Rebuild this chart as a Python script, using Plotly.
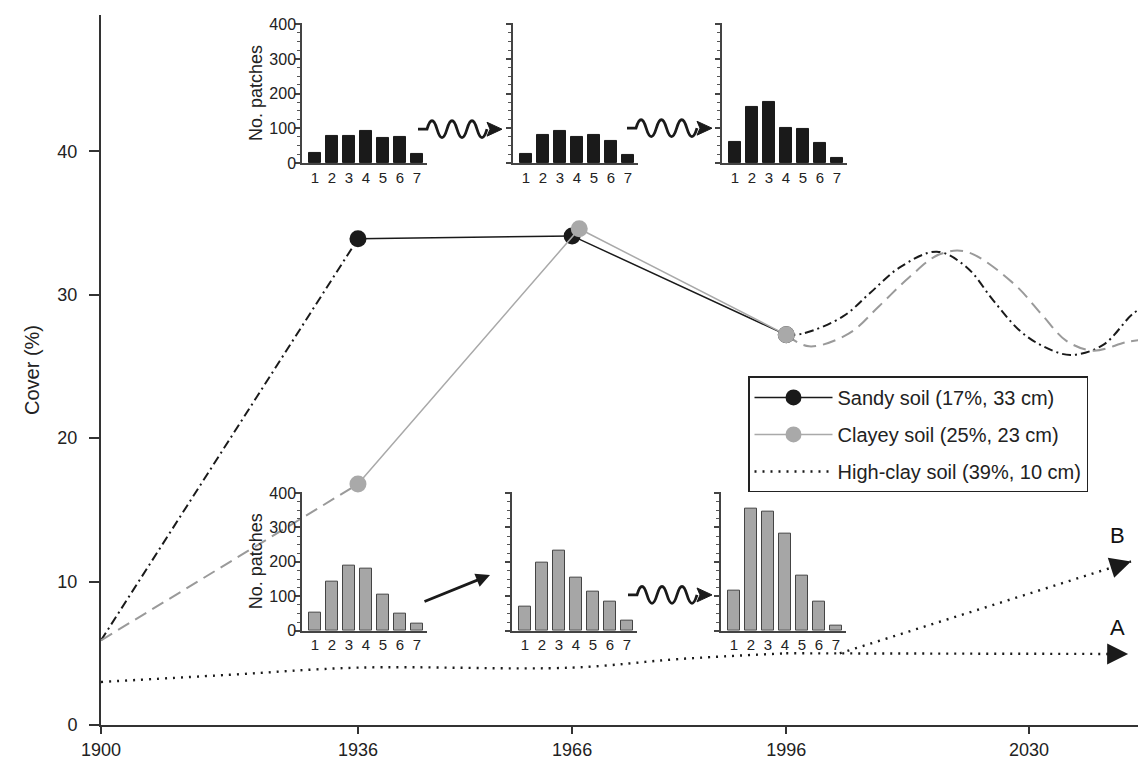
import math
import plotly.graph_objects as go

# ---------------- data ----------------
years_sandy_past = [1900, 1936]
sandy_past = [5.9, 33.9]
years_sandy = [1936, 1966, 1996]
sandy = [33.9, 34.1, 27.2]
years_sandy_future = [1996, 1998.4, 2004.0, 2007.7, 2011.9, 2017.1, 2021.3, 2025.0, 2028.7, 2032.0, 2035.8, 2040.4, 2044.4, 2046.4]
sandy_future = [27.2, 27.3, 28.5, 30.1, 31.9, 33.0, 31.9, 29.6, 27.5, 26.4, 25.8, 26.5, 28.6, 29.3]

years_clay_past = [1900, 1936]
clay_past = [5.9, 16.8]
years_clay = [1936, 1967, 1996]
clay = [16.8, 34.6, 27.2]
years_clay_future = [1996, 1999.2, 2004.8, 2009.0, 2013.2, 2017.4, 2021.2, 2027.8, 2032.0, 2035.2, 2039.0, 2043.7, 2046.4]
clay_future = [27.2, 26.4, 27.3, 29.2, 31.2, 32.8, 33.0, 30.8, 28.5, 26.8, 26.1, 26.7, 26.9]

years_high = [1900, 1918, 1936, 1966, 1981, 1996]
high = [3.0, 3.5, 4.0, 4.0, 4.6, 5.0]
years_A = [1996, 2043.9]
high_A = [5.0, 4.95]
years_B = [2003.5, 2044.3]
high_B = [5.0, 11.4]

legend_names = ["Sandy soil (17%, 33 cm)", "Clayey soil (25%, 23 cm)", "High-clay soil (39%, 10 cm)"]

x_ticks = [1900, 1936, 1966, 1996, 2030]
y_ticks = [0, 10, 20, 30, 40]

classes = [1, 2, 3, 4, 5, 6, 7]
sandy_1936 = [30, 79, 77, 92, 73, 74, 27]
sandy_1966 = [26, 80, 92, 76, 80, 63, 24]
sandy_1996 = [60, 162, 177, 101, 98, 59, 14]
clay_1936 = [51, 142, 190, 180, 104, 50, 21]
clay_1966 = [71, 199, 233, 153, 113, 83, 30]
clay_1996 = [117, 354, 347, 283, 159, 85, 16]
patch_ticks = [0, 100, 200, 300, 400]

# ---------------- layout constants ----------------
# page body has an 8px margin: the figure occupies window pixels 8..1146 x 8..760
OFF = 8
W, H = 1146 - OFF, 760 - OFF
X_LEFT, X_RIGHT, Y_TOP, Y_BOT = 101, 1146, 13, 728   # plot area in window pixels
L, R, T, B = X_LEFT - OFF, OFF + W - X_RIGHT, Y_TOP - OFF, OFF + H - Y_BOT
PW, PH = X_RIGHT - X_LEFT, Y_BOT - Y_TOP
X_RANGE = [1900, 2046.4]
Y_RANGE = [0, 49.5]
FONT = "Liberation Sans, Arial, Helvetica, sans-serif"
INK = "#1a1a1a"
GREY = "#a9a9a9"


def fx(X):
    return (X - X_LEFT) / PW


def fy(Y):
    return (Y_BOT - Y) / PH


fig = go.Figure()

# ---------------- main traces ----------------
fig.add_trace(go.Scatter(x=years_sandy_past, y=sandy_past, mode="lines",
                         line=dict(color=INK, width=2, dash="9px,4px,2px,4px"),
                         showlegend=False, hoverinfo="skip"))
fig.add_trace(go.Scatter(x=years_clay_past, y=clay_past, mode="lines",
                         line=dict(color="#9a9a9a", width=2, dash="13px,7px"),
                         showlegend=False, hoverinfo="skip"))
fig.add_trace(go.Scatter(x=years_sandy_future, y=sandy_future, mode="lines",
                         line=dict(color=INK, width=2, dash="9px,4px,2px,4px", shape="spline", smoothing=1.0),
                         showlegend=False, hoverinfo="skip"))
fig.add_trace(go.Scatter(x=years_clay_future, y=clay_future, mode="lines",
                         line=dict(color="#9a9a9a", width=2, dash="13px,7px", shape="spline", smoothing=1.0),
                         showlegend=False, hoverinfo="skip"))
fig.add_trace(go.Scatter(x=years_sandy, y=sandy, mode="lines+markers", name=legend_names[0],
                         legendgroup="g1",
                         line=dict(color=INK, width=1.5),
                         marker=dict(color=INK, size=17)))
fig.add_trace(go.Scatter(x=years_clay, y=clay, mode="lines+markers", name=legend_names[1],
                         legendgroup="g2",
                         line=dict(color=GREY, width=1.5),
                         marker=dict(color=GREY, size=17)))
fig.add_trace(go.Scatter(x=years_high, y=high, mode="lines", name=legend_names[2],
                         legendgroup="g3",
                         line=dict(color=INK, width=2.4, dash="2px,6px", shape="spline")))
for xs, ys in ((years_A, high_A), (years_B, high_B)):
    fig.add_trace(go.Scatter(x=xs, y=ys, mode="lines",
                             line=dict(color=INK, width=2.4, dash="2px,6px"),
                             showlegend=False, hoverinfo="skip"))

# ---------------- insets ----------------
insets = [
    (sandy_1936, 302, "top", True, INK),
    (sandy_1966, 513, "top", False, INK),
    (sandy_1996, 722, "top", False, INK),
    (clay_1936, 302, "bottom", True, "#a6a6a6"),
    (clay_1966, 512, "bottom", False, "#a6a6a6"),
    (clay_1996, 721, "bottom", False, "#a6a6a6"),
]
rows = {"top": (162, 21), "bottom": (633, 493)}
for i, (vals, x0, row, labels, color) in enumerate(insets, start=2):
    y0, y1 = rows[row]
    fig.add_trace(go.Bar(x=classes, y=vals, width=0.74,
                         marker=dict(color=color, line=dict(color="#444" if color != INK else INK, width=1)),
                         xaxis=f"x{i}", yaxis=f"y{i}", showlegend=False, hoverinfo="skip"))
    fig.update_layout(**{
        f"xaxis{i}": dict(domain=[fx(x0), fx(x0 + 125)], anchor=f"y{i}", range=[0.24, 7.6],
                          tickvals=classes, showline=True, linecolor="#444", linewidth=1.5,
                          ticks="", showgrid=False, zeroline=False,
                          tickfont=dict(family=FONT, size=15, color="#222")),
        f"yaxis{i}": dict(domain=[fy(y0), fy(y1)], anchor=f"x{i}", range=[0, 404],
                          tickvals=patch_ticks, showticklabels=labels,
                          showline=True, linecolor="#444", linewidth=1.5,
                          ticks="outside", ticklen=5, tickwidth=1.5, tickcolor="#444",
                          ticklabelstandoff=-4,
                          minor=dict(dtick=25, ticks="outside", ticklen=3, tickwidth=1, tickcolor="#555"),
                          showgrid=False, zeroline=False,
                          tickfont=dict(family=FONT, size=16, color="#222"),
                          title=dict(text="No. patches" if labels else "", standoff=2,
                                     font=dict(family=FONT, size=18, color="#222"))),
    })

# ---------------- wavy arrows (decorations) ----------------
shapes = []


def wavy_arrow(x_start, tip, yc, amp=8.5, halves=6):
    head = 15
    w0 = x_start + 9
    w1 = tip - head
    h = (w1 - w0) / halves
    p = f"M{fx(x_start)},{fy(yc)} L{fx(w0)},{fy(yc)} "
    p += f"Q{fx(w0 + h / 2)},{fy(yc - 2 * amp)} {fx(w0 + h)},{fy(yc)} "
    for k in range(2, halves + 1):
        p += f"T{fx(w0 + k * h)},{fy(yc)} "
    shapes.append(dict(type="path", xref="paper", yref="paper", path=p,
                       line=dict(color=INK, width=2.8)))
    tri = (f"M{fx(tip)},{fy(yc)} L{fx(tip - head)},{fy(yc - 7)} "
           f"L{fx(tip - head + 3)},{fy(yc)} L{fx(tip - head)},{fy(yc + 7)} Z")
    shapes.append(dict(type="path", xref="paper", yref="paper", path=tri,
                       fillcolor=INK, line=dict(color=INK, width=1)))


wavy_arrow(418, 502, 128)
wavy_arrow(627, 712, 127)
wavy_arrow(628, 712, 597)

# arrowheads at the ends of scenario lines A and B, pointing along the last segment
px_per_x = PW / (X_RANGE[1] - X_RANGE[0])
px_per_y = PH / (Y_RANGE[1] - Y_RANGE[0])
annotations = []
for xs, ys in ((years_A, high_A), (years_B, high_B)):
    dx = (xs[-1] - xs[-2]) * px_per_x
    dy = -(ys[-1] - ys[-2]) * px_per_y
    n = math.hypot(dx, dy)
    annotations.append(dict(x=xs[-1], y=ys[-1], xref="x", yref="y", text="",
                            ax=-22 * dx / n, ay=-22 * dy / n, axref="pixel", ayref="pixel",
                            showarrow=True, arrowhead=2, arrowsize=1.75, arrowwidth=2.4,
                            arrowcolor=INK))

annotations += [
    dict(x=fx(490), y=fy(577), xref="paper", yref="paper", ax=-67, ay=27,
         showarrow=True, arrowhead=2, arrowsize=1, arrowwidth=2.8, arrowcolor=INK, text=""),
    dict(x=2042.4, y=13.2, xref="x", yref="y", text="B", showarrow=False,
         font=dict(family=FONT, size=22, color="#111")),
    dict(x=2042.4, y=6.8, xref="x", yref="y", text="A", showarrow=False,
         font=dict(family=FONT, size=22, color="#111")),
    dict(x=2045.5, y=12.0, xref="x", yref="y", text="?", showarrow=False, xanchor="left",
         font=dict(family=FONT, size=17, color="#111")),
    dict(x=2045.5, y=5.4, xref="x", yref="y", text="?", showarrow=False, xanchor="left",
         font=dict(family=FONT, size=17, color="#111")),
]

fig.update_layout(
    width=W, height=H,
    margin=dict(l=L, r=R, t=T, b=B, pad=0),
    paper_bgcolor="white", plot_bgcolor="rgba(0,0,0,0)",
    font=dict(family=FONT, size=18, color="#222"),
    xaxis=dict(range=X_RANGE, tickvals=x_ticks, showline=True, linecolor="#333", linewidth=2,
               ticks="outside", ticklen=7, tickwidth=2, tickcolor="#333", showgrid=False, zeroline=False,
               tickfont=dict(family=FONT, size=18, color="#222")),
    yaxis=dict(range=Y_RANGE, tickvals=y_ticks, showline=True, linecolor="#333", linewidth=2,
               ticks="outside", ticklen=10, tickwidth=2, tickcolor="#333", showgrid=False, zeroline=False,
               ticklabelstandoff=8,
               tickfont=dict(family=FONT, size=18, color="#222"),
               title=dict(text="Cover (%)", standoff=12, font=dict(family=FONT, size=20, color="#222"))),
    legend=dict(x=fx(748), y=fy(377), xanchor="left", yanchor="top",
                bgcolor="white", bordercolor="#222", borderwidth=1.5,
                font=dict(family=FONT, size=20, color="#222"),
                tracegroupgap=8, itemwidth=78),
    shapes=shapes,
    annotations=annotations,
    bargap=0,
)

fig.write_html("out.html")
